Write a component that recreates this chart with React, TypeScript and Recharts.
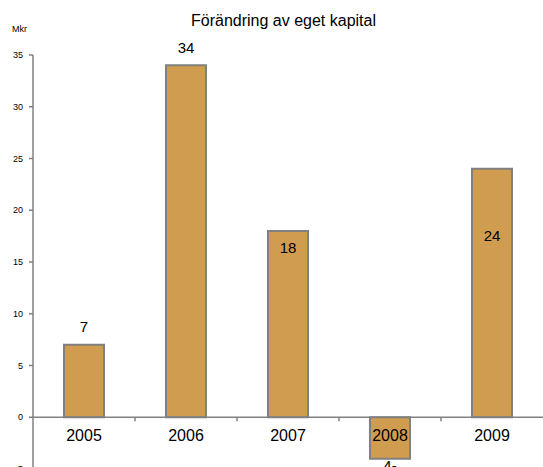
import { Bar, BarChart, LabelList, ReferenceDot, ReferenceLine, XAxis, YAxis } from "recharts"

const years = ["2005", "2006", "2007", "2008", "2009"]
const change = [7, 34, 18, -4, 24]
const yTicks = [-5, 0, 5, 10, 15, 20, 25, 30, 35]

const W = 543
const H = 480
const YW = 33
const band = (W - YW) / years.length

// vertical nudge of each value label from its bar end (Excel had them hand placed)
const labelDy = [-18, -18, 17, 7, 67]

const fmt = (v: number) => (v < 0 ? `${Math.abs(v)}-` : `${v}`)

const ValueLabel = (props: any) => {
  const { x, y, width, height, value, index } = props
  const top = Math.min(y, y + height)
  const bottom = Math.max(y, y + height)
  const cy = (value < 0 ? bottom : top) + labelDy[index]
  return (
    <text x={x + width / 2} y={cy} textAnchor="middle" dominantBaseline="central" fontSize={15} fill="#000">
      {fmt(value)}
    </text>
  )
}

// small tick on the zero line between categories
const BoundaryTick = (props: any) => {
  const { cx, cy, index } = props
  if (cx == null || index === years.length - 1) return <g />
  return <line x1={cx + band / 2} x2={cx + band / 2} y1={cy} y2={cy + 4} stroke="#808080" strokeWidth={1.5} />
}

export default function App() {
  const data = years.map((year, i) => ({ year, value: change[i] }))

  return (
    <div style={{ position: "fixed", left: 0, top: 0, width: W, height: 467, overflow: "hidden", background: "#fff", fontFamily: "'Liberation Sans', Arial, sans-serif" }}>
      <div style={{ position: "absolute", left: 0, width: W, top: 12, textAlign: "center", fontSize: 16, paddingLeft: 24, boxSizing: "border-box" }}>
        Förändring av eget kapital
      </div>
      <div style={{ position: "absolute", left: 12, top: 24, fontSize: 9 }}>Mkr</div>
      <BarChart width={W} height={H} data={data} margin={{ top: 55, right: 0, bottom: 11, left: 0 }}>
        <XAxis dataKey="year" hide />
        <YAxis
          width={YW}
          domain={[-5, 35]}
          ticks={yTicks}
          interval={0}
          tickSize={4}
          tickMargin={6}
          tick={{ fontSize: 9, fill: "#000" }}
          axisLine={{ stroke: "#808080", strokeWidth: 1.5 }}
          tickLine={{ stroke: "#808080", strokeWidth: 1.5 }}
        />
        <ReferenceLine y={0} stroke="#808080" strokeWidth={1.5} />
        <Bar dataKey="value" fill="#D09C50" stroke="#808080" strokeWidth={2} barSize={40} isAnimationActive={false}>
          <LabelList dataKey="value" content={ValueLabel} />
        </Bar>
        {years.map((year, i) => (
          <ReferenceDot
            key={year}
            x={year}
            y={0}
            r={0}
            shape={(p: any) => <BoundaryTick {...p} index={i} />}
            label={{ value: year, position: "bottom", offset: 12, fontSize: 16, fill: "#000" }}
          />
        ))}
      </BarChart>
    </div>
  )
}
